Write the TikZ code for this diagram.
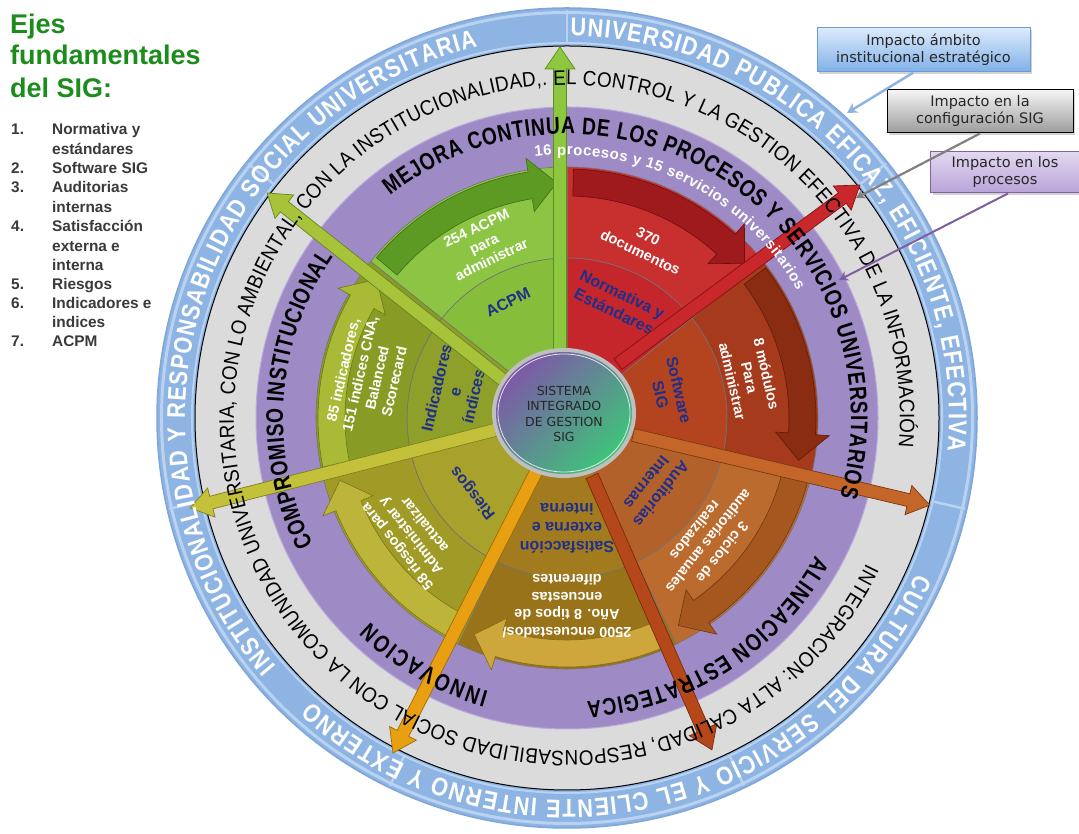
\documentclass[tikz,border=0pt]{standalone}
\usepackage{fontspec}
\setmainfont{Liberation Sans}
\newfontfamily\boxfont{DejaVu Sans}
\newfontfamily\purplefont[FakeStretch=0.8]{Liberation Sans}
\newfontfamily\grayfont[FakeStretch=0.9]{Liberation Sans}
\newfontfamily\bluefont[FakeStretch=0.85]{Liberation Sans}
\usetikzlibrary{decorations.text,arrows.meta,shadows}
\definecolor{ringblue}{HTML}{8DB4E2}
\definecolor{ringbluelight}{HTML}{B9D2F1}
\definecolor{ringblueedge}{HTML}{7FA6D6}
\definecolor{ringgray}{HTML}{DBDBDB}
\definecolor{ringpurple}{HTML}{9E8BC6}
\definecolor{ringpurpleedge}{HTML}{B9A9DD}
\definecolor{s1in}{HTML}{C4262B}\definecolor{s1out}{HTML}{C8302F}\definecolor{s1arr}{HTML}{9E1A1C}\definecolor{s1brd}{HTML}{6E0E0E}
\definecolor{s2in}{HTML}{B4431F}\definecolor{s2out}{HTML}{A63A1C}\definecolor{s2arr}{HTML}{8A2C12}\definecolor{s2brd}{HTML}{5E1C08}
\definecolor{s3in}{HTML}{B3612A}\definecolor{s3out}{HTML}{BC6B2E}\definecolor{s3arr}{HTML}{A6561F}\definecolor{s3brd}{HTML}{6E3810}
\definecolor{s4in}{HTML}{A27B1E}\definecolor{s4out}{HTML}{98731A}\definecolor{s4arr}{HTML}{CDA63C}\definecolor{s4brd}{HTML}{8A6A10}
\definecolor{s5in}{HTML}{A8A22C}\definecolor{s5out}{HTML}{A09B26}\definecolor{s5arr}{HTML}{BDB53A}\definecolor{s5brd}{HTML}{7A7518}
\definecolor{s6in}{HTML}{8EA02A}\definecolor{s6out}{HTML}{889C25}\definecolor{s6arr}{HTML}{A8BA36}\definecolor{s6brd}{HTML}{6A7A15}
\definecolor{s7in}{HTML}{86BE3C}\definecolor{s7out}{HTML}{8CC443}\definecolor{s7arr}{HTML}{5C9A24}\definecolor{s7brd}{HTML}{3E7014}
\definecolor{arrg}{HTML}{8DC63F}\definecolor{arrgd}{HTML}{5E8C1E}
\definecolor{arrr}{HTML}{C8282C}\definecolor{arrrd}{HTML}{8A1010}
\definecolor{arrb}{HTML}{C4652A}\definecolor{arrbd}{HTML}{7A3A0E}
\definecolor{arru}{HTML}{B5481A}\definecolor{arrud}{HTML}{7A2A08}
\definecolor{arrm}{HTML}{E8A012}\definecolor{arrmd}{HTML}{A06A00}
\definecolor{arro}{HTML}{C3C03A}\definecolor{arrod}{HTML}{808020}
\definecolor{arry}{HTML}{A6C33A}\definecolor{arryd}{HTML}{6A8420}
\definecolor{lblblue}{HTML}{1F2F8A}
\definecolor{titlegreen}{HTML}{1C8C1C}
\definecolor{listgray}{HTML}{3A3A3A}
\definecolor{cpurple}{HTML}{7E58A8}
\definecolor{cgreen}{HTML}{3EC47A}
\definecolor{boxonet}{HTML}{DCEAFB}\definecolor{boxoneb}{HTML}{7FB0E8}\definecolor{boxoned}{HTML}{6C9BD2}
\definecolor{boxtwot}{HTML}{F4F4F4}\definecolor{boxtwob}{HTML}{9C9C9C}
\definecolor{boxthrt}{HTML}{E2D8F0}\definecolor{boxthrb}{HTML}{B9A3D8}\definecolor{boxthrd}{HTML}{8064A2}
\definecolor{connpurple}{HTML}{7F5FA0}
\tikzset{
 lbl/.style={font=\bfseries\fontsize{16}{19}\selectfont, text=lblblue, align=center, inner sep=0pt},
 wtxt/.style={font=\bfseries\fontsize{14.5}{17.5}\selectfont, text=white, align=center, inner sep=0pt},
 titletxt/.style={anchor=base west, font=\bfseries\fontsize{27}{27}\selectfont, text=titlegreen, inner sep=0pt},
 listtxt/.style={anchor=base west, font=\bfseries\fontsize{15.4}{15.4}\selectfont, text=listgray, inner sep=0pt},
 callout/.style={line width=1pt, align=center, font=\boxfont\fontsize{14.5}{17}\selectfont, text=black!85, inner sep=0pt,
   drop shadow={shadow xshift=2pt, shadow yshift=-2pt, opacity=.35}},
}
\newcommand\sectorfill[4]{%
 \filldraw[fill=#3, draw=black!55, line width=0.6pt] (0,0) -- (#1:160) arc[start angle=#1, end angle=#2, radius=160] -- cycle;
 \filldraw[fill=#4, draw=black!55, line width=0.6pt] (#1:160) arc[start angle=#1, end angle=#2, radius=160] -- (#2:251) arc[start angle=#2, end angle=#1, radius=251] -- cycle;}
\newcommand\curvarrow[4]{%
 \filldraw[fill=#3, draw=#4, line width=0.6pt] ({#1-1.5}:222) arc[start angle={#1-1.5}, end angle={#2+9}, radius=222] -- ({#2+9}:209) -- ({#2+2.5}:235.5) -- ({#2+9}:263) -- ({#2+9}:249) arc[start angle={#2+9}, end angle={#1-1.5}, radius=249] -- cycle;}
\newcommand\radarrow[7]{%
 \coordinate (#1s) at (#2,#3);
 \begin{scope}[shift={(#2,#3)}, rotate=#4]
 \filldraw[fill=#6, draw=#7, line width=0.7pt, line join=miter] (0,-6.5) -- ({#5-22},-6.5) -- ({#5-22},-15) -- (#5,0) coordinate (#1t) -- ({#5-22},15) -- ({#5-22},6.5) -- (0,6.5) -- cycle;
 \end{scope}}
\newcommand\ringtext[5]{%
 \path[decorate, decoration={text along path, text align={fit to path}, text={|#4|#5}}] (#2:#1) arc[start angle=#2, end angle=#3, radius=#1];}
\begin{document}
\begin{tikzpicture}[x=1pt,y=1pt]
\useasboundingbox (0,0) rectangle (1079,834);
\fill[white] (0,0) rectangle (1079,834);
\coordinate (C) at (567,416);
\begin{scope}[shift={(C)}]
 % rings
 \filldraw[fill=ringblue, draw=ringblueedge, line width=1.5pt] (0,0) circle[radius=410];
 \draw[ringbluelight, line width=3pt] (0,0) circle[radius=405.5];
 \draw[ringbluelight, line width=2pt] (0,0) circle[radius=375];
 \foreach \a in {90,38.571,-12.857,-64.286,-115.714,-167.143,141.429}
   \draw[ringbluelight, line width=2.5pt] (\a:374) -- (\a:408);
 \filldraw[fill=ringgray, draw=black, line width=1pt] (0,0) circle[radius=372];
 \filldraw[fill=ringpurple, draw=ringpurpleedge, line width=1pt] (0,0) circle[radius=311];
 % sectors
 \sectorfill{90}{38.571}{s1in}{s1out}
 \sectorfill{38.571}{-12.857}{s2in}{s2out}
 \sectorfill{-12.857}{-64.286}{s3in}{s3out}
 \sectorfill{-64.286}{-115.714}{s4in}{s4out}
 \sectorfill{-115.714}{-167.143}{s5in}{s5out}
 \sectorfill{-167.143}{-218.571}{s6in}{s6out}
 \sectorfill{-218.571}{-270}{s7in}{s7out}
 % curved arrows
 \curvarrow{90}{38.571}{s1arr}{s1brd}
 \curvarrow{38.571}{-12.857}{s2arr}{s2brd}
 \curvarrow{-12.857}{-64.286}{s3arr}{s3brd}
 \curvarrow{-64.286}{-115.714}{s4arr}{s4brd}
 \curvarrow{-115.714}{-167.143}{s5arr}{s5brd}
 \curvarrow{-167.143}{-218.571}{s6arr}{s6brd}
 \curvarrow{-218.571}{-270}{s7arr}{s7brd}
 % sector labels
 \node[lbl, rotate=-25.714] (l1) at (66:126) {Normativa y\\Estándares};
 \node[lbl, rotate=-77.143] (l2) at (14:106) {Software\\SIG};
 \node[lbl, rotate=-128.571] (l3) at (-39:112) {Auditorias\\Internas};
 \node[lbl, rotate=180] (l4) at (-90:110) {Satisfacción\\externa e\\interna};
 \node[lbl, rotate=128.571] (l5) at (-141.4:120) {Riesgos};
 \node[lbl, rotate=77.143] (l6) at (167:115) {Indicadores\\e\\índices};
 \node[lbl, rotate=25.714] (l7) at (117:130) {ACPM};
 \node[wtxt, rotate=-25.714] (w1) at (66:190) {370\\documentos};
 \node[wtxt, rotate=-77.143] (w2) at (12.5:187) {8 módulos\\Para\\administrar};
 \node[wtxt, rotate=-128.571] (w3) at (-41:188) {3 ciclos de\\auditorías anuales\\realizados};
 \node[wtxt, rotate=180] (w4) at (-90:188) {2500 encuestados/\\Año. 8 tipos de\\encuestas\\diferentes};
 \node[wtxt, rotate=128.571] (w5) at (-143:196) {58 riesgos para\\Administrar y\\actualizar};
 \node[wtxt, rotate=77.143] (w6) at (168:203) {85 indicadores,\\151 índices CNA,\\Balanced\\Scorecard};
 \node[wtxt, rotate=25.714] (w7) at (115.5:193) {254 ACPM\\para\\administrar};
\end{scope}
% radial arrows
\radarrow{ag}{560}{482}{90}{305}{arrg}{arrgd}
\radarrow{ar}{618}{470}{36.5}{301}{arrr}{arrrd}
\radarrow{ab}{633}{399}{-13.3}{305}{arrb}{arrbd}
\radarrow{au}{592}{358}{-66.35}{299}{arru}{arrud}
\radarrow{am}{537}{364}{-116.97}{317.5}{arrm}{arrmd}
\radarrow{ao}{495}{404}{-165.65}{314.8}{arro}{arrod}
\radarrow{ay}{503}{454}{141.6}{301}{arry}{arryd}
% ring texts
\begin{scope}[shift={(C)}]
 \ringtext{382}{89.5}{-5}{\bluefont\fontsize{25.5}{25.5}\selectfont\bfseries\color{white}}{UNIVERSIDAD PUBLICA EFICAZ, EFICIENTE, EFECTIVA}
 \ringtext{382}{220.5}{103.5}{\bluefont\fontsize{25.5}{25.5}\selectfont\bfseries\color{white}}{INSTITUCIONALIDAD Y RESPONSABILIDAD SOCIAL UNIVERSITARIA}
 \ringtext{382}{-24}{-132}{\bluefont\fontsize{25.5}{25.5}\selectfont\bfseries\color{white}}{CULTURA DEL SERVICIO Y EL CLIENTE INTERNO Y EXTERNO}
 \ringtext{333}{-26}{-365}{\grayfont\fontsize{21}{21}\selectfont\color{black}}{INTEGRACION: ALTA CALIDAD, RESPONSABILIDAD SOCIAL CON LA COMUNIDAD UNIVERSITARIA, CON LO AMBIENTAL, CON LA INSTITUCIONALIDAD,. EL CONTROL Y LA GESTION EFECTIVA DE LA INFORMACIÓN}
 \ringtext{284}{128.5}{-16}{\purplefont\fontsize{24}{24}\selectfont\bfseries\color{black}}{MEJORA CONTINUA DE LOS PROCESOS Y SERVICIOS UNIVERSITARIOS}
 \ringtext{284}{206.5}{145.5}{\purplefont\fontsize{24}{24}\selectfont\bfseries\color{black}}{COMPROMISO INSTITUCIONAL}
 \ringtext{284}{-106}{-134}{\purplefont\fontsize{24}{24}\selectfont\bfseries\color{black}}{INNOVACION}
 \ringtext{284}{-29}{-86}{\purplefont\fontsize{24}{24}\selectfont\bfseries\color{black}}{ALINEACION ESTRATEGICA}
 \ringtext{263}{97}{29}{\fontsize{15}{15}\selectfont\bfseries\color{white}}{16 procesos y 15 servicios universitarios}
\end{scope}
% centre
\fill[black!25] (564,421) ellipse[x radius=72, y radius=65];
\shade[top color=cpurple, bottom color=cgreen, shading angle=45] (564,421) ellipse[x radius=68, y radius=61];
\draw[white!80!gray, line width=0.8pt] (564,421) ellipse[x radius=66, y radius=59];
\node[font=\boxfont\fontsize{12.5}{15.5}\selectfont, text=black!85, align=center] (sig) at (564,420) {SISTEMA\\INTEGRADO\\DE GESTION\\SIG};
% title and list
\node[titletxt] (t1) at (10,800) {Ejes};
\node[titletxt] (t2) at (10,769) {fundamentales};
\node[titletxt] (t3) at (10,736) {del SIG:};
\foreach \yy/\ltext [count=\i] in {135/Normativa y, 155/estándares, 174/Software SIG, 193/Auditorias, 213/internas, 232/Satisfacción, 252/externa e, 271/interna, 290/Riesgos, 309/Indicadores e, 328/indices, 347/ACPM}
  \node[listtxt] (lt\i) at (52,834-\yy) {\ltext};
\foreach \yy/\lnum [count=\i] in {135/1., 174/2., 193/3., 232/4., 290/5., 309/6., 347/7.}
  \node[listtxt] (ln\i) at (11,834-\yy) {\lnum};
% callouts
\node[callout, draw=boxoned, top color=boxonet, bottom color=boxoneb, minimum width=213pt, minimum height=44pt] (b1) at (923.5,784) {Impacto ámbito\\institucional estratégico};
\node[callout, draw=black, top color=boxtwot, bottom color=boxtwob, minimum width=186pt, minimum height=43pt] (b2) at (980,722.5) {Impacto en la\\configuración SIG};
\node[callout, draw=boxthrd, top color=boxthrt, bottom color=boxthrb, minimum width=149pt, minimum height=41pt] (b3) at (1005,661.5) {Impacto en los\\procesos};
\coordinate (b1e) at (847,721);
\coordinate (b2e) at (856,636);
\coordinate (b3e) at (839,554);
\draw[ringblue, line width=2.5pt, -{Stealth[length=10pt,width=11pt]}] ([xshift=-10pt]b1.south) -- (b1e);
\draw[black!50, line width=2.2pt, -{Stealth[length=9pt,width=10pt]}] (b2.south) -- (b2e);
\draw[connpurple, line width=2pt, -{Stealth[length=9pt,width=10pt]}] ([xshift=3pt]b3.south) -- (b3e);
\end{tikzpicture}
\end{document}
